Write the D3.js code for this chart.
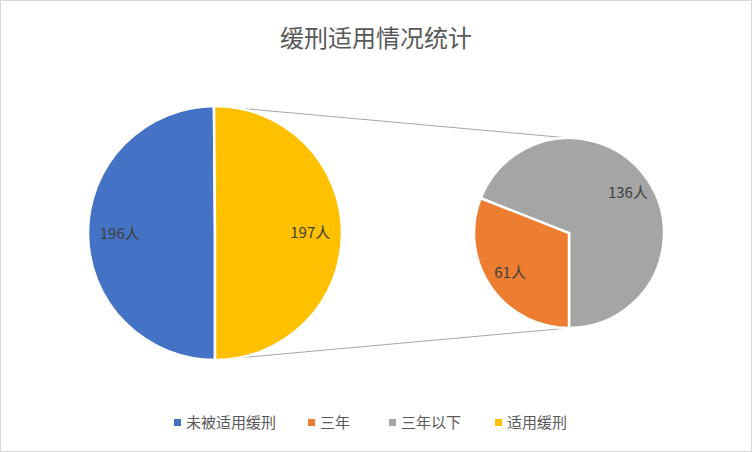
<!DOCTYPE html>
<html><head><meta charset="utf-8">
<script src="https://cdn.jsdelivr.net/npm/d3@7"></script>
<style>body{margin:0;background:#fff}text{font-family:"Noto Sans CJK SC","Noto Sans",sans-serif}</style>
</head><body>
<svg id="c" width="752" height="452"></svg>
<script>
// main pie
var mainNames=["未被适用缓刑","适用缓刑"];
var mainValues=[196,197];
var mainColors=["#4472C4","#FFC000"];
// sub pie (split of 适用缓刑)
var subNames=["三年以下","三年"];
var subValues=[136,61];
var subColors=["#A5A5A5","#ED7D31"];
var legendNames=["未被适用缓刑","三年","三年以下","适用缓刑"];
var legendColors=["#4472C4","#ED7D31","#A5A5A5","#FFC000"];

var svg=d3.select("#c");
svg.append("rect").attr("x",0.5).attr("y",0.5).attr("width",751).attr("height",451)
  .attr("fill","#fff").attr("stroke","#d9d9d9");
svg.append("text").attr("x",376).attr("y",47).attr("text-anchor","middle")
  .attr("font-size",24).attr("fill","#595959").text("缓刑适用情况统计");

var c1=[215,233],r1=127,c2=[569,233],r2=95;

// connector lines
svg.append("line").attr("x1",c1[0]).attr("y1",c1[1]-r1).attr("x2",c2[0]).attr("y2",c2[1]-r2)
  .attr("stroke","#a6a6a6").attr("stroke-width",1);
svg.append("line").attr("x1",c1[0]).attr("y1",c1[1]+r1).attr("x2",c2[0]).attr("y2",c2[1]+r2)
  .attr("stroke","#a6a6a6").attr("stroke-width",1);

function drawPie(center,r,names,values,colors,start){
  var pie=d3.pie().sort(null).startAngle(start).endAngle(start+2*Math.PI);
  var arcs=pie(values);
  var arc=d3.arc().innerRadius(0).outerRadius(r);
  var lab=d3.arc().innerRadius(r*0.75).outerRadius(r*0.75);
  var g=svg.append("g").attr("transform","translate("+center+")");
  g.selectAll("path").data(arcs).join("path").attr("d",arc)
    .attr("fill",function(d,i){return colors[i];}).attr("stroke","#fff").attr("stroke-width",2.5);
  g.selectAll("text").data(arcs).join("text")
    .attr("transform",function(d){return "translate("+lab.centroid(d)+")";})
    .attr("text-anchor","middle").attr("dy","0.35em").attr("font-size",15).attr("fill","#404040")
    .text(function(d){return d.value+"人";});
}
drawPie(c1,r1,mainNames,mainValues,mainColors,Math.PI);
var subStart=Math.PI+2*Math.PI*subValues[1]/(subValues[0]+subValues[1]);
drawPie(c2,r2,subNames,subValues,subColors,subStart);

// legend
var lx=[177,311,392,498];
var lg=svg.append("g");
legendNames.forEach(function(n,i){
  lg.append("rect").attr("x",lx[i]-3).attr("y",419).attr("width",7).attr("height",7).attr("fill",legendColors[i]);
  lg.append("text").attr("x",lx[i]+9).attr("y",428).attr("font-size",15).attr("fill","#595959").text(n);
});
</script>
</body></html>
